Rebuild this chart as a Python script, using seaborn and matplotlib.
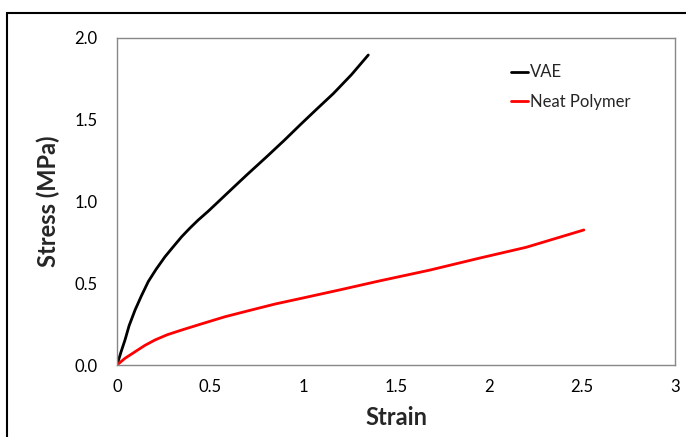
import matplotlib
matplotlib.use("Agg")
import matplotlib.pyplot as plt
import seaborn as sns
import pandas as pd
from matplotlib.patches import Rectangle

vae_strain = [0.0, 0.022, 0.043, 0.065, 0.097, 0.13, 0.168, 0.21, 0.258, 0.3, 0.348, 0.39,
              0.437, 0.49, 0.545, 0.625, 0.7, 0.805, 0.9, 0.984, 1.07, 1.163, 1.26, 1.351]
vae_stress = [0.0, 0.081, 0.153, 0.24, 0.336, 0.42, 0.51, 0.585, 0.662, 0.72, 0.785, 0.835,
              0.887, 0.94, 0.999, 1.085, 1.165, 1.274, 1.375, 1.468, 1.561, 1.66, 1.775, 1.896]

neat_strain = [0.0, 0.043, 0.097, 0.15, 0.204, 0.27, 0.348, 0.45, 0.58, 0.7, 0.85, 1.0,
               1.2, 1.41, 1.68, 1.95, 2.2, 2.51]
neat_stress = [0.0, 0.041, 0.081, 0.12, 0.153, 0.185, 0.214, 0.25, 0.295, 0.33, 0.373, 0.41,
               0.46, 0.514, 0.58, 0.654, 0.72, 0.826]

series_labels = ["VAE", "Neat Polymer"]
colors = ["#000000", "#ff0000"]

df = pd.concat([
    pd.DataFrame({"Strain": vae_strain, "Stress": vae_stress, "Series": series_labels[0]}),
    pd.DataFrame({"Strain": neat_strain, "Stress": neat_stress, "Series": series_labels[1]}),
])

sns.set_style("white")
plt.rcParams["font.family"] = ["Lato", "DejaVu Sans"]

fig = plt.figure(figsize=(6.86, 4.37), dpi=100)
ax = fig.add_axes([117/686, 1-365/437, (675-117)/686, (365-38)/437])

sns.lineplot(data=df, x="Strain", y="Stress", hue="Series", palette=colors,
             sort=False, estimator=None, linewidth=2.0, ax=ax)

ax.set_xlim(0, 3)
ax.set_ylim(0, 2.0)
ax.set_xticks([0, 0.5, 1, 1.5, 2, 2.5, 3])
ax.set_xticklabels(["0", "0.5", "1", "1.5", "2", "2.5", "3"])
ax.set_yticks([0, 0.5, 1.0, 1.5, 2.0])
ax.set_yticklabels(["0.0", "0.5", "1.0", "1.5", "2.0"])
ax.tick_params(axis="both", length=0, labelsize=12, colors="#000000")
ax.tick_params(axis="x", pad=10)
ax.tick_params(axis="y", pad=14)
for s in ax.spines.values():
    s.set_color("#888888")
    s.set_linewidth(1.0)

ax.set_xlabel("Strain", fontsize=17, fontweight="bold", labelpad=8)
ax.set_ylabel("Stress (MPa)", fontsize=17, fontweight="bold", labelpad=10)

ax.legend(frameon=False, loc="upper left", bbox_to_anchor=(0.68, 0.965),
          fontsize=12, handlelength=1.0, handletextpad=0.1, labelspacing=0.8)

fig.patches.append(Rectangle((7/686, -0.05), 1.0, 1 - 13/437 + 0.05,
                             transform=fig.transFigure, fill=False,
                             edgecolor="black", linewidth=1.5))

fig.savefig("out.png", dpi=100)
